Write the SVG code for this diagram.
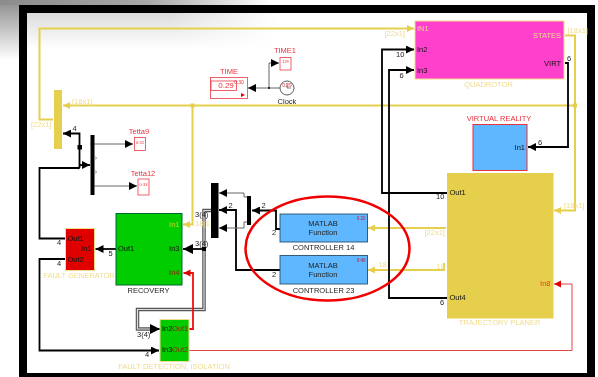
<svg xmlns="http://www.w3.org/2000/svg" width="598" height="377" viewBox="0 0 598 377">
<defs>
<filter id="soft" x="0" y="0" width="100%" height="100%"><feGaussianBlur stdDeviation="0.35"/></filter>
<linearGradient id="gv" x1="0" y1="0" x2="0" y2="1"><stop offset="0" stop-color="#8c8c8c"/><stop offset="1" stop-color="#fff"/></linearGradient>
<linearGradient id="gh" x1="0" y1="0" x2="1" y2="0"><stop offset="0" stop-color="#8c8c8c"/><stop offset="0.55" stop-color="#a8a8a8"/><stop offset="1" stop-color="#fff"/></linearGradient>
<linearGradient id="gi" x1="0" y1="0" x2="0" y2="1"><stop offset="0" stop-color="#dcdcdc"/><stop offset="1" stop-color="#fff"/></linearGradient>
<linearGradient id="gf" x1="0" y1="0" x2="1" y2="0"><stop offset="0" stop-color="#fff" stop-opacity="0"/><stop offset="1" stop-color="#fff"/></linearGradient>
<marker id="ak" markerWidth="9" markerHeight="8" refX="8" refY="4" orient="auto" markerUnits="userSpaceOnUse"><path d="M0 0L8 4L0 8z" fill="#000"/></marker>
<marker id="akl" markerWidth="11" markerHeight="11" refX="10" refY="5" orient="auto" markerUnits="userSpaceOnUse"><path d="M0 0L10 5L0 10z" fill="#000"/></marker>
<marker id="ay" markerWidth="8" markerHeight="8" refX="7" refY="3.500" orient="auto" markerUnits="userSpaceOnUse"><path d="M0 0L7 3.500L0 7z" fill="#e6cf4e"/></marker>
<marker id="ar" markerWidth="8" markerHeight="8" refX="7" refY="3.500" orient="auto" markerUnits="userSpaceOnUse"><path d="M0 0L7 3.500L0 7z" fill="#e00000"/></marker>
</defs>
<style>
text{font-family:"Liberation Sans",Arial,sans-serif;font-size:7.5px;fill:#222}
.c{text-anchor:middle}
.e{text-anchor:end}
.y{fill:#f0dc8c}
.r{fill:#e8303c}
.k{fill:#111}
.d{fill:#8a2a00}
.l{fill:none;stroke:#000;stroke-width:1.8}
.t{fill:none;stroke:#666;stroke-width:1}
.yl{fill:none;stroke:#e6cf4e;stroke-width:2}
.rl{fill:none;stroke:#f01010;stroke-width:1.8}
.rt{fill:none;stroke:#e03030;stroke-width:.9}
.b{fill:#000}
.rb{fill:#fff;stroke:#ee3a44;stroke-width:.8}
.blue{fill:#5fb8ff;stroke:#27506e;stroke-width:.9}
.lab{font-size:7.500px}
</style>
<g filter="url(#soft)">
<rect id="background" width="598" height="377" fill="#fff"/>
<rect x="0" y="0" width="19" height="60" fill="url(#gv)"/>
<rect x="0" y="0" width="270" height="5" fill="url(#gh)"/>
<rect x="27" y="13" width="250" height="36" fill="url(#gi)"/>
<rect x="170" y="13" width="107" height="36" fill="url(#gf)"/>
<path id="frame" fill="#000" fill-rule="evenodd" d="M19 5H595V377H19zM27 13V373H587V13z"/>

<g id="connectors">
<path class="yl" d="M53 119.500H39.500V28.500H414" marker-end="url(#ay)"/>
<path class="yl" d="M575 105.500H63" marker-end="url(#ay)"/>
<path class="yl" d="M192.500 105.500V224.500H183" marker-end="url(#ay)"/>
<path class="yl" d="M565 35.500H575V210.500H554" marker-end="url(#ay)"/>
<path class="yl" d="M446 228H368" marker-end="url(#ay)"/>
<path class="yl" d="M444 263V270H368" marker-end="url(#ay)"/>
<path class="l" d="M65 238.500H39.500V168H79.500"/>
<path class="l" d="M79.500 168V133.500H63" marker-end="url(#ak)"/>
<path class="l" d="M79.500 165H90" marker-end="url(#ak)"/>
<path class="l" d="M65 259H39.500V350.500H159" marker-end="url(#ak)"/>
<path class="l" d="M116 249H95.500" marker-end="url(#ak)"/>
<path class="l" d="M447 193H382V49.500H414" marker-end="url(#ak)"/>
<path class="l" d="M447 298H389V70H414" marker-end="url(#ak)"/>
<path class="l" d="M565 63H568V147H528" marker-end="url(#ak)"/>
<path class="l" d="M280 229H276V210.500H252" marker-end="url(#ak)"/>
<path class="l" d="M280 270H236V210H219" marker-end="url(#ak)"/>
<path class="t" d="M247 197H244V193H219" marker-end="url(#ak)"/>
<path class="t" d="M247 222H244V228H219" marker-end="url(#ak)"/>
<path class="t" d="M90.500 144H133" marker-end="url(#ak)"/>
<path class="t" d="M94.500 186H137" marker-end="url(#ak)"/>
<path class="t" d="M280 88H248" marker-end="url(#ak)"/>
<path class="t" d="M269 88V63H279" marker-end="url(#ak)"/>
<path fill="none" stroke="#555" stroke-width="3.500" d="M211 210.500H204V309.500H137.500V329H150"/>
<path fill="none" stroke="#ddd" stroke-width="1.200" d="M211 210.500H204V309.500H137.500V329H150"/>
<path class="l" d="M150 329H160" marker-end="url(#akl)"/>
<path class="l" d="M204 249H183" marker-end="url(#akl)"/>
<path class="rl" d="M189 329H193V273H183.500" marker-end="url(#ar)"/>
<path class="rt" d="M189 350.500H572V284H554" marker-end="url(#ar)"/>
<rect x="190.500" y="103.500" width="4" height="4" fill="#e6cf4e"/>
<rect x="573" y="103.500" width="4" height="4" fill="#e6cf4e"/>
<rect class="b" x="77.500" y="145" width="4.500" height="4.500"/>
<rect class="b" x="202" y="247" width="4" height="4"/>
<circle class="b" cx="269" cy="88" r="1"/>
<circle class="b" cx="78.500" cy="168" r="1.200"/>
<text x="31" y="126.500" class="y">[22x1]</text>
<text x="72" y="103.500" class="y">[18x1]</text>
<text x="384.500" y="35.500" class="y">[22x1]</text>
<text x="567.500" y="33" class="y">[18x1]</text>
<text x="564" y="208" class="y">[18x1]</text>
<text x="424.500" y="235" class="y">[22x1]</text>
<text x="378.500" y="267" class="y">18</text>
<text x="436.500" y="269" class="y">18</text>
<text x="195" y="226" class="y">18(1)</text>
<text x="72.500" y="131">4</text>
<text x="57" y="245">4</text>
<text x="57" y="266">4</text>
<text x="145" y="357">4</text>
<text x="108.500" y="256">5</text>
<text x="396" y="57">10</text>
<text x="399.500" y="78">6</text>
<text x="567" y="61">6</text>
<text x="538" y="145">6</text>
<text x="436" y="199">10</text>
<text x="440" y="305">6</text>
<text x="261.500" y="208">2</text>
<text x="228.500" y="208">2</text>
<text x="272" y="235">2</text>
<text x="272" y="277">2</text>
<text x="195" y="217">3(4)</text>
<text x="195" y="246">3(4)</text>
<text x="137" y="337">3(4)</text>
</g>

<g id="mux-left"><rect class="b" x="90.500" y="135" width="4" height="60"/><circle cx="95.500" cy="158" r="1" fill="#fff" stroke="#555" stroke-width=".5"/><circle cx="95.500" cy="172" r="1" fill="#fff" stroke="#555" stroke-width=".5"/></g>
<g id="bus-left"><rect x="54" y="90" width="8" height="59" fill="#e6cf4e"/></g>
<g id="mux-large"><rect class="b" x="211" y="183" width="7.500" height="55"/></g>
<g id="mux-small"><rect class="b" x="247" y="196" width="4" height="29"/></g>

<g id="time"><text x="229" y="74" class="c r lab">TIME</text><rect class="rb" x="210.500" y="77.500" width="37" height="21"/><rect x="211" y="81" width="25.500" height="9.500" fill="none" stroke="#ee3a44" stroke-width=".8"/><text x="226" y="87.500" class="c r" style="font-size:8px">0.29</text><text x="239" y="84" class="c r" style="font-size:5px">0:30</text><path d="M241 93l4 2l-4 2z" fill="#e00000"/></g>
<g id="time1"><text x="285" y="53" class="c r lab">TIME1</text><rect class="rb" x="280" y="57.500" width="11" height="12.500"/><text x="285.500" y="63" class="c r" style="font-size:4px">129</text></g>
<g id="clock"><circle cx="287" cy="88" r="7" fill="#fff" stroke="#333" stroke-width=".8"/><path d="M287 83V88H291" fill="none" stroke="#333" stroke-width=".6"/><text x="287" y="86.500" class="c r" style="font-size:5px">0:29</text><text x="287" y="103.500" class="c lab">Clock</text></g>
<g id="tetta9"><text x="139" y="134" class="c r lab">Tetta9</text><rect class="rb" x="134.500" y="137.500" width="11" height="13"/><text x="140" y="144" class="c r" style="font-size:4px">0:32</text></g>
<g id="tetta12"><text x="143" y="176" class="c r lab">Tetta12</text><rect class="rb" x="138" y="179" width="11" height="16"/><text x="143.500" y="186" class="c r" style="font-size:4px">0:33</text></g>

<g id="quadrotor"><rect x="415" y="21" width="149" height="58" fill="#ff40cc" stroke="#f0dc8c"/>
<text x="417" y="31" class="y">IN1</text><text x="417" y="52" class="k">In2</text><text x="417" y="73" class="k">In3</text><text x="561" y="38" class="e y">STATES</text><text x="561" y="66" class="e k">VIRT</text>
<text x="488.500" y="87" class="c y lab">QUADROTOR</text></g>

<g id="virtual-reality"><rect x="473" y="124.500" width="54" height="46" fill="#5fb8ff" stroke="#e8303c"/><text x="525" y="150" class="e k">In1</text><text x="499" y="120.500" class="c r lab">VIRTUAL REALITY</text></g>

<g id="trajectory-planer"><rect x="447" y="173" width="106.500" height="145.500" fill="#e6cf4e"/>
<text x="449.500" y="195" class="k">Out1</text><text x="449.500" y="300" class="k">Out4</text><text x="550.500" y="286" class="e" style="fill:#e8401c">In8</text>
<text x="499.500" y="325" class="c y lab">TRAJECTORY PLANER</text></g>

<g id="controller-14"><rect class="blue" x="280" y="214" width="87.500" height="28"/><text x="323" y="225.500" class="c lab">MATLAB</text><text x="323" y="235" class="c">Function</text><text x="365.500" y="220" class="e" style="font-size:4.500px;fill:#d01030">0:20</text><text x="323.500" y="250" class="c">CONTROLLER 14</text></g>
<g id="controller-23"><rect class="blue" x="280" y="255.500" width="87.500" height="28.500"/><text x="323" y="267.500" class="c lab">MATLAB</text><text x="323" y="277" class="c">Function</text><text x="365.500" y="261.500" class="e" style="font-size:4.500px;fill:#d01030">0:46</text><text x="323.500" y="293" class="c">CONTROLLER 23</text></g>

<g id="recovery"><rect x="116" y="213.500" width="66" height="71.500" fill="#00cc00" stroke="#063"/>
<text x="118" y="251" class="k">Out1</text><text x="179.500" y="226.500" class="e" style="fill:#c8d820">In1</text><text x="179.500" y="251" class="e k">In3</text><text x="179.500" y="275" class="e d">In4</text><text x="148.500" y="292.500" class="c lab">RECOVERY</text></g>

<g id="fault-generator"><rect x="65.500" y="228.500" width="29" height="42" fill="#e00000" stroke="#f0dc8c"/>
<text x="67.500" y="240.500" class="k">Out1</text><text x="67.500" y="261.500" class="k">Out2</text><text x="91.500" y="251" class="e k">In1</text><text x="79" y="278" class="c y lab">FAULT GENERATOR</text></g>

<g id="fault-detection"><rect x="160" y="319.500" width="29" height="42" fill="#00cc00" stroke="#f0dc8c"/>
<text x="162" y="331" class="k">In2</text><text x="172" y="331" class="d">Out1</text><text x="162" y="352" class="k">In3</text><text x="172" y="352" class="d">Out2</text><text x="174" y="369" class="c y lab">FAULT DETECTION, ISOLATION</text></g>

<ellipse id="highlight" cx="327.500" cy="248.500" rx="82" ry="52" fill="none" stroke="#f00000" stroke-width="2.500"/>
</g>
</svg>
